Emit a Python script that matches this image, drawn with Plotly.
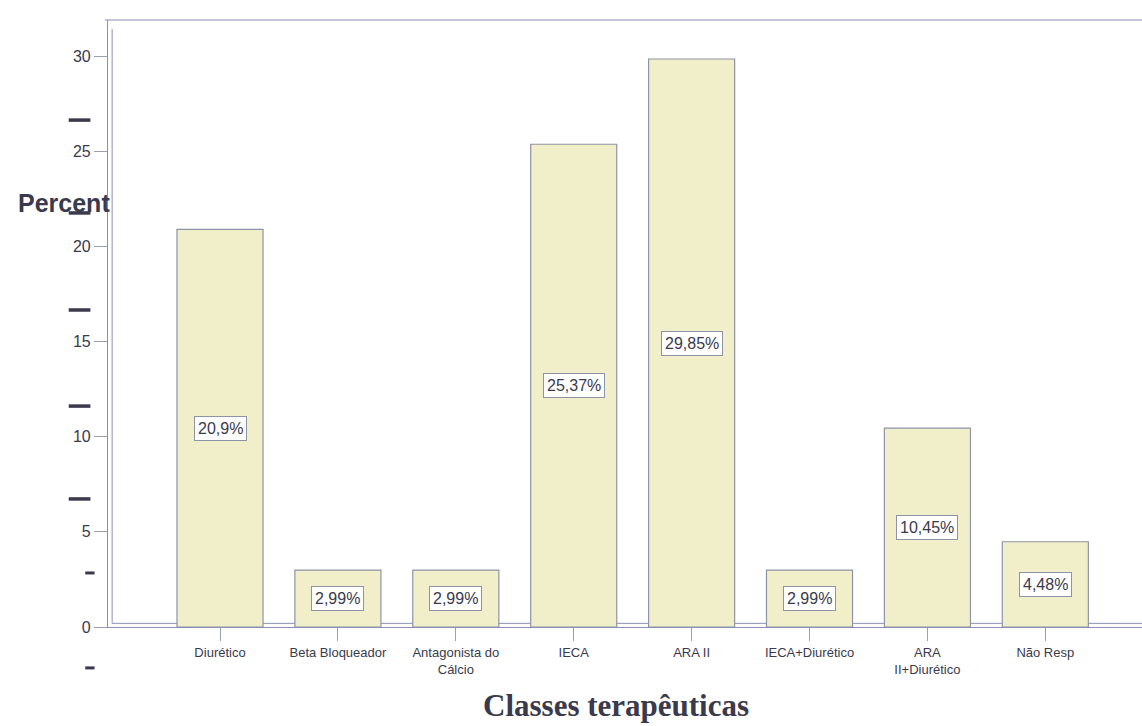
import plotly.graph_objects as go

# Therapeutic classes and their share of patients (%)
categories = [
    "Diurético",
    "Beta Bloqueador",
    "Antagonista do<br>Cálcio",
    "IECA",
    "ARA II",
    "IECA+Diurético",
    "ARA<br>II+Diurético",
    "Não Resp",
]
percent = [20.9, 2.99, 2.99, 25.37, 29.85, 2.99, 10.45, 4.48]

y_ticks = [0, 5, 10, 15, 20, 25, 30]
y_range = [0, 31.9]

# heavy dashes printed beside the value axis (y units), long and short ones
long_marks = [26.64, 21.76, 16.66, 11.61, 6.73]
short_marks = [2.84, -2.15]

ink = "#3a3a4c"
frame = "#8a90b4"
bar_fill = "#f1efc9"
bar_edge = "#8e94a6"
sans = "Arial, Liberation Sans, sans-serif"
serif = "Times New Roman, Liberation Serif, serif"

fig = go.Figure()
fig.add_trace(
    go.Bar(
        x=categories,
        y=percent,
        width=0.73,
        marker=dict(color=bar_fill, line=dict(color=bar_edge, width=1.2)),
        hoverinfo="x+y",
    )
)


def label(v):
    return f"{v:g}".replace(".", ",") + "%"


annotations = []
for cat, v in zip(categories, percent):
    annotations.append(
        dict(
            x=cat, y=v / 2, xref="x", yref="y",
            text=label(v), showarrow=False,
            font=dict(family=sans, size=16, color=ink),
            bgcolor="white", bordercolor="#8e94a6", borderwidth=1, borderpad=3,
        )
    )

annotations.append(
    dict(
        x=0, y=22.3, xref="paper", yref="y", xanchor="right", xshift=4,
        text="<b>Percent</b>", showarrow=False,
        font=dict(family=sans, size=25, color=ink),
    )
)
annotations.append(
    dict(
        x=0.491, y=-0.13, xref="paper", yref="paper", yanchor="middle",
        text="<b>Classes terapêuticas</b>", showarrow=False,
        font=dict(family=serif, size=31, color=ink),
    )
)


def ydom(v):
    return (v - y_range[0]) / (y_range[1] - y_range[0])


shapes = [
    # inner rule of the double frame, left and bottom
    dict(type="line", xref="x domain", yref="y domain", x0=0.004, x1=0.004,
         y0=0.006, y1=0.985, line=dict(color=frame, width=1), layer="below"),
    dict(type="line", xref="x domain", yref="y domain", x0=0.004, x1=1,
         y0=0.006, y1=0.006, line=dict(color=frame, width=1), layer="below"),
    # top edge of the frame
    dict(type="line", xref="x domain", yref="y domain", x0=-0.003, x1=1,
         y0=1, y1=1, line=dict(color=frame, width=1.2)),
]
for m in long_marks:
    shapes.append(
        dict(type="line", xref="paper", yref="y domain", x0=-0.038, x1=-0.017,
             y0=ydom(m), y1=ydom(m), line=dict(color=ink, width=3.5))
    )
for m in short_marks:
    shapes.append(
        dict(type="line", xref="paper", yref="y domain", x0=-0.022, x1=-0.013,
             y0=ydom(m), y1=ydom(m), line=dict(color=ink, width=3))
    )

fig.update_layout(
    width=1142,
    height=726,
    margin=dict(l=108, r=0, t=20, b=99),
    paper_bgcolor="white",
    plot_bgcolor="white",
    showlegend=False,
    annotations=annotations,
    shapes=shapes,
    xaxis=dict(
        type="category",
        range=[-0.95, 7.82],
        showline=True, linecolor=frame, linewidth=1.2,
        ticks="outside", ticklen=13, tickcolor="#9aa0b4", tickwidth=1,
        tickfont=dict(family=sans, size=13, color=ink),
        showgrid=False, zeroline=False,
    ),
    yaxis=dict(
        range=y_range,
        tickvals=y_ticks,
        showline=True, linecolor=frame, linewidth=1.2,
        ticks="outside", ticklen=13, tickcolor="#9aa0b4", tickwidth=1,
        ticklabelstandoff=0,
        tickfont=dict(family=sans, size=16, color=ink),
        showgrid=False, zeroline=False,
    ),
)

fig.write_html("out.html")
